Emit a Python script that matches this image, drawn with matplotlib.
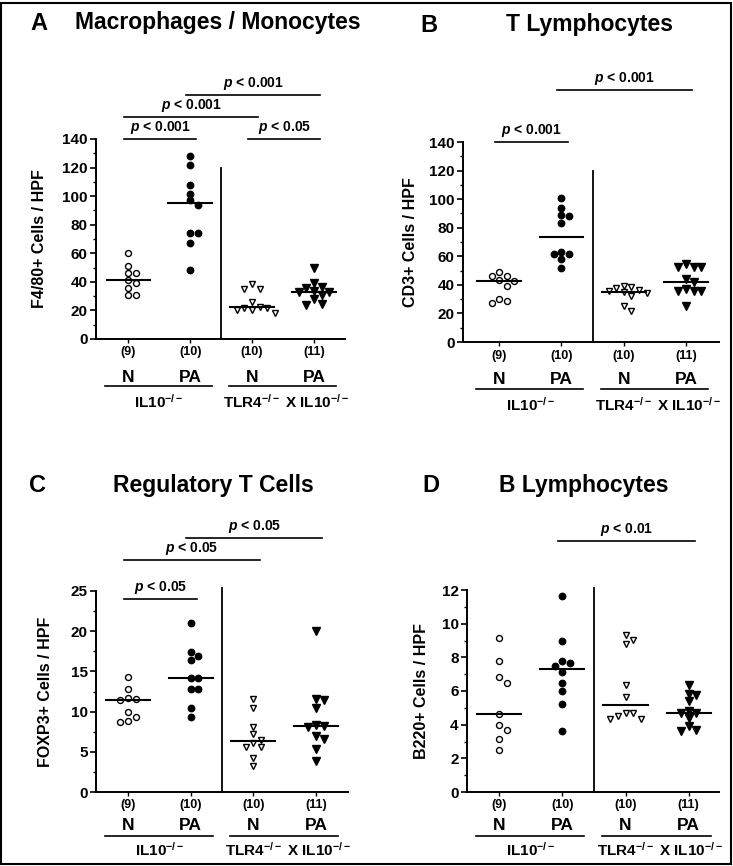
import numpy as np
import matplotlib
matplotlib.use('Agg')
import matplotlib.pyplot as plt
from matplotlib import transforms
from matplotlib.patches import Rectangle

plt.rcParams['font.family'] = ['Liberation Sans', 'DejaVu Sans']
plt.rcParams['font.weight'] = 'bold'
plt.rcParams['mathtext.fontset'] = 'custom'
plt.rcParams['mathtext.rm'] = 'Liberation Sans:bold'
plt.rcParams['mathtext.it'] = 'Liberation Sans:italic:bold'
plt.rcParams['mathtext.bf'] = 'Liberation Sans:bold'

# ---- data ----
group_n = ['(9)', '(10)', '(10)', '(11)']
group_diet = ['N', 'PA', 'N', 'PA']
strain_labels = [r'IL10$^{-/-}$', r'TLR4$^{-/-}$ X IL10$^{-/-}$']

# A: Macrophages / Monocytes
mac_il10_n = [60, 51, 46, 46, 41, 39, 36, 31, 31]
mac_il10_pa = [128, 122, 108, 101.5, 97, 93.5, 74.5, 74.5, 67.5, 48]
mac_tlr4_n = [38.5, 35, 35, 26, 22.5, 22, 22, 20.5, 20, 18.5]
mac_tlr4_pa = [49.5, 39.5, 36.5, 36, 33.5, 33, 33, 30.5, 28, 24.5, 24]

# B: T Lymphocytes
cd3_il10_n = [49, 46.5, 46, 43.5, 43, 39.5, 30, 29, 27]
cd3_il10_pa = [101, 94, 89, 88.5, 83.5, 63, 61.5, 61.5, 58, 51.5]
cd3_tlr4_n = [39.5, 38.5, 38, 36.5, 35.5, 35, 34.5, 32, 25, 22]
cd3_tlr4_pa = [54.5, 52.5, 52.5, 52.5, 44, 42, 37, 35.5, 35.5, 35.5, 25.5]

# C: Regulatory T cells
foxp3_il10_n = [14.3, 12.8, 11.7, 11.6, 11.4, 9.9, 9.3, 8.8, 8.7]
foxp3_il10_pa = [21, 17.4, 16.9, 16.4, 14.2, 14.2, 12.8, 12.8, 10.5, 9.3]
foxp3_tlr4_n = [11.6, 10.5, 8.1, 7.2, 6.5, 6.1, 5.6, 5.6, 4.2, 3.2]
foxp3_tlr4_pa = [20, 11.6, 11.4, 10.4, 8.3, 8.15, 8.1, 7.0, 6.6, 5.4, 3.85]

# D: B Lymphocytes
b220_il10_n = [9.15, 7.8, 6.85, 6.5, 4.65, 4.0, 3.7, 3.15, 2.5]
b220_il10_pa = [11.65, 9.0, 7.8, 7.65, 7.5, 7.15, 6.5, 6.0, 5.2, 3.65]
b220_tlr4_n = [9.35, 9.05, 8.8, 6.35, 5.65, 4.7, 4.7, 4.5, 4.35, 4.35]
b220_tlr4_pa = [6.35, 5.8, 5.75, 5.4, 4.8, 4.7, 4.7, 4.4, 3.9, 3.7, 3.65]

# significance bars: (from group, to group, p label)
sig_a = [(0, 1, '< 0.001'), (0, 2, '< 0.001'), (1, 3, '< 0.001'), (2, 3, '< 0.05')]
sig_b = [(0, 1, '< 0.001'), (1, 3, '< 0.001')]
sig_c = [(0, 1, '< 0.05'), (0, 2, '< 0.05'), (1, 3, '< 0.05')]
sig_d = [(1, 3, '< 0.01')]

panels = [
    dict(letter='A', title='Macrophages / Monocytes', ylabel='F4/80+ Cells / HPF',
         groups=[mac_il10_n, mac_il10_pa, mac_tlr4_n, mac_tlr4_pa],
         ymax=140, major=20, minor=10, divider_top=120, sig=sig_a,
         rect=(96, 345, 339, 139), xlim=(-0.52, 3.5), sig_px=[0, 22, 44, 0],
         letter_x=39, title_x=218, title_y=23, ylab_x=-0.195, below=[13, 38, 47, 63]),
    dict(letter='B', title='T Lymphocytes', ylabel='CD3+ Cells / HPF',
         groups=[cd3_il10_n, cd3_il10_pa, cd3_tlr4_n, cd3_tlr4_pa],
         ymax=140, major=20, minor=10, divider_top=120, sig=sig_b,
         rect=(463, 719, 342, 142), xlim=(-0.58, 3.53), sig_px=[0, 52],
         letter_x=429, title_x=589, title_y=25, ylab_x=-0.175, below=[14, 38, 47, 63]),
    dict(letter='C', title='Regulatory T Cells', ylabel='FOXP3+ Cells / HPF',
         groups=[foxp3_il10_n, foxp3_il10_pa, foxp3_tlr4_n, foxp3_tlr4_pa],
         ymax=25, major=5, minor=2.5, divider_top=25.4, sig=sig_c,
         rect=(96, 348, 792, 591), xlim=(-0.51, 3.51), sig_px=[-8, 31, 53],
         letter_x=37, title_x=213, title_y=485, ylab_x=-0.17, below=[13, 34, 44, 58]),
    dict(letter='D', title='B Lymphocytes', ylabel='B220+ Cells / HPF',
         groups=[b220_il10_n, b220_il10_pa, b220_tlr4_n, b220_tlr4_pa],
         ymax=12, major=2, minor=1, divider_top=12.1, sig=sig_d,
         rect=(467, 719, 792, 590), xlim=(-0.51, 3.48), sig_px=[49],
         letter_x=431, title_x=584, title_y=485, ylab_x=-0.15, below=[13, 34, 44, 58]),
]

W, H = 733, 866
fig = plt.figure(figsize=(W / 100, H / 100), dpi=100)
fig.patches.append(Rectangle((0.002, 0.002), 0.995, 0.995, transform=fig.transFigure,
                             fill=False, edgecolor='black', linewidth=1.5))

marker_style = [
    dict(marker='o', mfc='white', mec='black', ms=4.3, mew=1.0),
    dict(marker='o', mfc='black', mec='black', ms=4.6, mew=1.0),
    dict(marker='v', mfc='white', mec='black', ms=5.0, mew=1.0),
    dict(marker='v', mfc='black', mec='black', ms=5.5, mew=1.0),
]


def swarm_offsets(ax, values, step_px=7.6, min_dist=6.2):
    ys = ax.transData.transform(np.column_stack([np.zeros(len(values)), values]))[:, 1]
    cands = [0]
    for i in range(1, 12):
        cands += [i, -i]
    placed = []
    for y in ys:
        for c in cands:
            if all(np.hypot((c - pc) * step_px, y - py) >= min_dist for pc, py in placed):
                break
        placed.append((c, y))
    x_unit = ax.transData.transform((1, 0))[0] - ax.transData.transform((0, 0))[0]
    return np.array([c for c, _ in placed]) * step_px / x_unit


for p in panels:
    left, right, bottom, top = p['rect']
    ax = fig.add_axes([left / W, 1 - bottom / H, (right - left) / W, (bottom - top) / H])
    ax.set_xlim(*p['xlim'])
    ax.set_ylim(0, p['ymax'])
    for s in ['top', 'right']:
        ax.spines[s].set_visible(False)
    for s in ['left', 'bottom']:
        ax.spines[s].set_linewidth(1.4)

    ax.set_yticks(np.arange(0, p['ymax'] + 0.01, p['major']))
    ax.set_yticks(np.arange(0, p['ymax'] + 0.01, p['minor']), minor=True)
    ax.tick_params(axis='y', which='major', length=4, width=1.2, labelsize=11, pad=2)
    ax.tick_params(axis='y', which='minor', length=2.5, width=1.0)
    ax.set_xticks(range(4))
    ax.set_xticklabels([])
    ax.tick_params(axis='x', length=3, width=1.0)
    for lab in ax.get_yticklabels():
        lab.set_fontweight('bold')
    ax.set_ylabel(p['ylabel'], fontsize=11.5, fontweight='bold')
    ax.yaxis.set_label_coords(p['ylab_x'], 0.5)

    # points and medians
    for i, vals in enumerate(p['groups']):
        offs = swarm_offsets(ax, vals)
        ax.plot(i + offs, vals, linestyle='none', clip_on=False, zorder=3, **marker_style[i])
        med = np.median(vals)
        ax.plot([i - 0.35, i + 0.35], [med, med], color='black', linewidth=1.5, zorder=4)

    # divider between strains
    ax.plot([1.5, 1.5], [0, p['divider_top']], color='black', linewidth=1.3, clip_on=False)

    # significance bars
    ax_h = bottom - top
    btrans = transforms.blended_transform_factory(ax.transData, ax.transAxes)
    for (g1, g2, lab), dpx in zip(p['sig'], p['sig_px']):
        yb = 1 + dpx / ax_h
        ax.plot([g1 - 0.07, g2 + 0.1], [yb, yb], color='black', linewidth=1.2,
                transform=btrans, clip_on=False)
        ax.text((g1 + g2) / 2 + 0.02, yb + 3 / ax_h, r'$p$ ' + lab, transform=btrans,
                ha='center', va='bottom', fontsize=10, fontweight='bold')

    # group labels below the axis
    d_n, d_diet, d_line, d_strain = p['below']
    for i in range(4):
        ax.text(i, -d_n / ax_h, group_n[i], transform=btrans, ha='center', va='center',
                fontsize=9, fontweight='bold')
        ax.text(i, -d_diet / ax_h, group_diet[i], transform=btrans, ha='center',
                va='center', fontsize=12.5, fontweight='bold')
    for (x0, x1) in [(-0.37, 1.35), (1.63, 3.35)]:
        ax.plot([x0, x1], [-d_line / ax_h] * 2, color='black', linewidth=1.2,
                transform=btrans, clip_on=False)
    ax.text(0.5, -d_strain / ax_h, strain_labels[0], transform=btrans, ha='center',
            va='center', fontsize=11, fontweight='bold')
    ax.text(2.55, -d_strain / ax_h, strain_labels[1], transform=btrans, ha='center',
            va='center', fontsize=11, fontweight='bold')

    # panel letter and title
    fig.text(p['letter_x'] / W, 1 - p['title_y'] / H, p['letter'], ha='center',
             va='center', fontsize=17, fontweight='bold')
    fig.text(p['title_x'] / W, 1 - p['title_y'] / H, p['title'], ha='center',
             va='center', fontsize=16.5, fontweight='bold')

fig.savefig('out.png', dpi=100)
